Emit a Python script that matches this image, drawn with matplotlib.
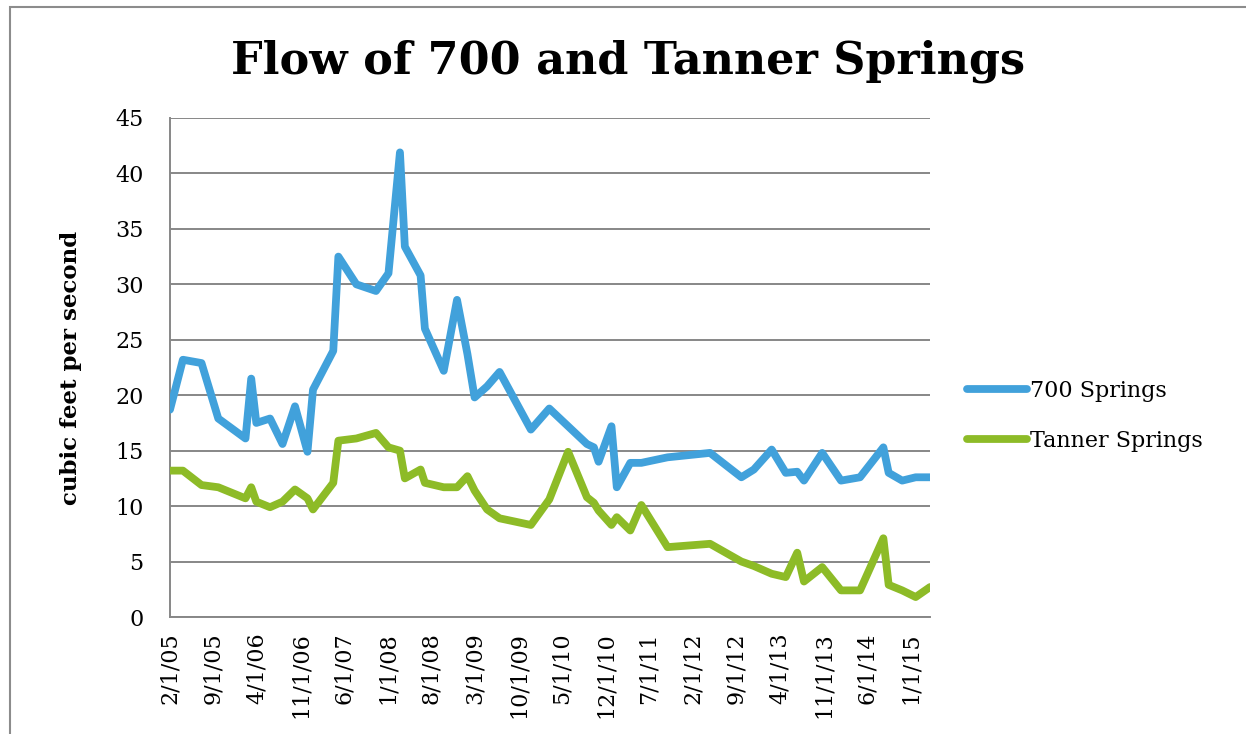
import matplotlib
matplotlib.use("Agg")
import matplotlib.pyplot as plt
import matplotlib.patches as patches
import pandas as pd

# Sample dates and flows in cubic feet per second
dates = [
    "2005-02-01", "2005-04-05", "2005-07-05", "2005-09-25", "2006-02-05",
    "2006-03-05", "2006-03-30", "2006-06-05", "2006-08-05", "2006-10-05",
    "2006-12-05", "2007-01-01", "2007-04-10", "2007-05-05", "2007-08-01",
    "2007-11-05", "2008-01-05", "2008-03-01", "2008-03-25", "2008-06-10",
    "2008-07-01", "2008-10-01", "2008-12-05", "2009-01-25", "2009-03-01",
    "2009-05-01", "2009-07-01", "2009-12-01", "2010-03-01", "2010-06-01",
    "2010-09-01", "2010-10-05", "2010-10-28", "2010-12-30", "2011-01-25",
    "2011-04-01", "2011-05-25", "2011-09-30", "2012-04-25", "2012-09-25",
    "2012-11-25", "2013-02-20", "2013-04-30", "2013-06-25", "2013-07-28",
    "2013-10-25", "2014-01-25", "2014-04-28", "2014-08-20", "2014-09-15",
    "2014-11-20", "2015-01-25", "2015-04-05",
]
springs_700 = [
    18.7, 23.2, 22.9, 17.9, 16.1, 21.5, 17.5, 17.9, 15.6, 19.0,
    14.9, 20.5, 24.0, 32.5, 30.0, 29.4, 31.0, 41.9, 33.4, 30.8,
    26.0, 22.2, 28.6, 23.7, 19.8, 20.8, 22.1, 16.9, 18.8, 17.2,
    15.6, 15.3, 14.0, 17.2, 11.7, 13.9, 13.9, 14.4, 14.8, 12.6,
    13.3, 15.1, 13.0, 13.1, 12.3, 14.8, 12.3, 12.6, 15.3, 13.0,
    12.3, 12.6, 12.6,
]
tanner_springs = [
    13.2, 13.2, 11.9, 11.7, 10.7, 11.7, 10.4, 9.9, 10.4, 11.5,
    10.7, 9.7, 12.1, 15.9, 16.1, 16.6, 15.3, 15.0, 12.5, 13.3,
    12.1, 11.7, 11.7, 12.7, 11.4, 9.7, 8.9, 8.3, 10.6, 14.9,
    10.8, 10.3, 9.6, 8.3, 9.0, 7.8, 10.1, 6.3, 6.6, 5.0,
    4.6, 3.9, 3.6, 5.8, 3.2, 4.5, 2.4, 2.4, 7.1, 2.9,
    2.4, 1.8, 2.7,
]
series_names = ["700 Springs", "Tanner Springs"]
series_colors = ["#41A1DB", "#8DBB27"]

t = pd.to_datetime(dates)
ticks = pd.date_range("2005-02-01", "2015-01-01", freq="7MS")
tick_labels = [f"{d.month}/{d.day}/{d:%y}" for d in ticks]

serif = "DejaVu Serif"
fig = plt.figure(figsize=(12.46, 7.34), dpi=100)
ax = fig.add_axes([170 / 1246, 1 - 617 / 734, 760 / 1246, 499 / 734])

for vals, name, col in zip([springs_700, tanner_springs], series_names, series_colors):
    ax.plot(t, vals, color=col, lw=5.6, label=name,
            solid_capstyle="round", solid_joinstyle="round", zorder=3)

ax.set_ylim(0, 45)
ax.set_yticks(range(0, 46, 5))
ax.set_xlim(t[0], t[-1])
ax.set_xticks(ticks)
ax.set_xticklabels(tick_labels, rotation=90, fontsize=16, family=serif)
for lab in ax.get_yticklabels():
    lab.set_family(serif)
    lab.set_fontsize(16)
ax.tick_params(length=0)
ax.tick_params(axis="y", pad=19)
ax.tick_params(axis="x", pad=11)

ax.grid(axis="y", color="#878787", lw=1.4)
ax.set_axisbelow(True)
for s in ["top", "right"]:
    ax.spines[s].set_visible(False)
for s in ["left", "bottom"]:
    ax.spines[s].set_color("#878787")
    ax.spines[s].set_linewidth(1.4)

ax.set_ylabel("cubic feet per second", family=serif, fontweight="bold",
              fontsize=16.5, labelpad=24)

fig.text(628 / 1246, 1 - 61 / 734, "Flow of 700 and Tanner Springs",
         ha="center", va="center", family=serif, fontweight="bold", fontsize=32)

leg = ax.legend(loc="upper left", bbox_to_anchor=(967 / 1246, 1 - 380 / 734),
                bbox_transform=fig.transFigure, frameon=False,
                prop={"family": serif, "size": 16}, handlelength=2.7,
                handletextpad=0.15, labelspacing=1.25, borderpad=0,
                borderaxespad=0)

# chart border, cut off at the right and bottom like the source image
fig.add_artist(patches.Rectangle((10 / 1246, -0.2), 1.2, 1.2 - 7 / 734,
                                 transform=fig.transFigure, fill=False,
                                 edgecolor="#8c8c8c", lw=1.5, clip_on=False))

fig.savefig("out.png", dpi=100)
